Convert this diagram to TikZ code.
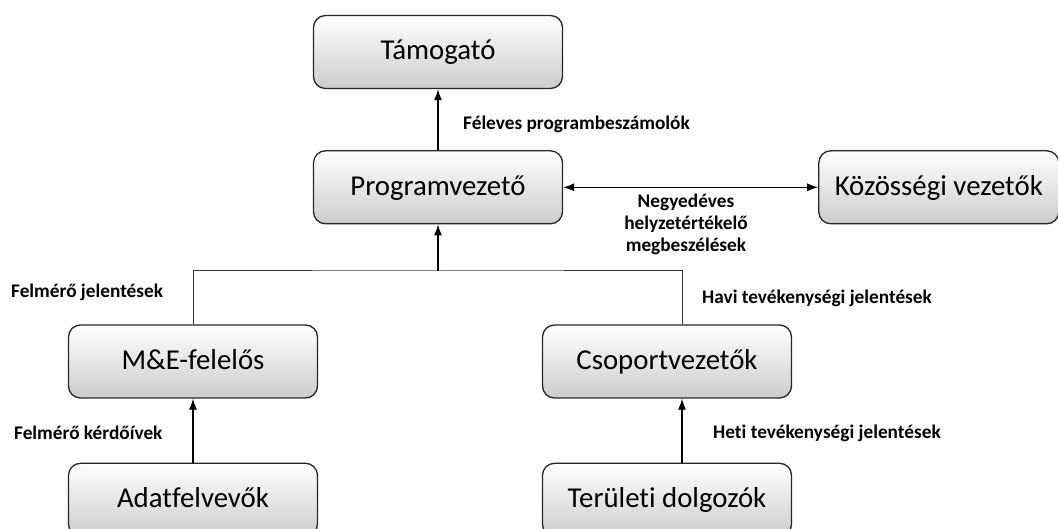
\documentclass[tikz,border=0pt]{standalone}
\usepackage{fontspec}
\setmainfont[Ligatures=NoCommon]{Carlito}
\usepackage{tikz}
\usetikzlibrary{arrows.meta,positioning}

\begin{document}
\begin{tikzpicture}[x=1pt, y=-1pt, node distance=61pt]
\tikzstyle{box} = [rectangle, draw=black!85, line width=1.3pt, top color=white, bottom color=black!20, minimum width=249pt, minimum height=73pt, rounded corners=12pt, font=\fontsize{28.8}{32}\selectfont, text height=21pt, text depth=5pt, inner sep=0pt]
\tikzstyle{lbl} = [font=\bfseries\fontsize{19.3}{22}\selectfont, inner sep=0pt]
\tikzstyle{arrow} = [line width=1.3pt, -{Latex[length=11pt,width=8pt]}]
\tikzstyle{link} = [line width=1pt, draw=black!80]

\useasboundingbox (0,0) rectangle (1058,529);

\node[box] (tam) at (438,52) {Támogató};
\node[box, below=of tam] (prog) {Programvezető};
\node[box, minimum width=240pt, right=255pt of prog] (koz) {Közösségi vezetők};
\node[box] (me) at (193,361.5) {M\&E-felelős};
\node[box] (cs) at (667,361.5) {Csoportvezetők};
\node[box, below=64pt of me] (adat) {Adatfelvevők};
\node[box, below=64pt of cs] (ter) {Területi dolgozók};
\coordinate (join) at (438,271);

% connectors
\draw[arrow] (prog) -- (tam);
\draw[arrow, {Latex[length=11pt,width=8pt]}-{Latex[length=11pt,width=8pt]}] (prog) -- (koz);
\draw[link] (me.north) |- (join) -| ([xshift=15pt]cs.north);
\draw[arrow] (join) -- (prog);
\draw[arrow] (adat) -- (me);
\draw[arrow] ([xshift=15pt]ter.north) -- ([xshift=15pt]cs.south);

% labels
\node[lbl, anchor=west] (l1) at (463,124) {Féleves programbeszámolók};
\node[lbl, align=center] (l2) at (686,224) {Negyedéves\\helyzetértékelő\\megbeszélések};
\node[lbl, anchor=west] (l3) at (11,292) {Felmérő jelentések};
\node[lbl, anchor=west] (l4) at (702,298) {Havi tevékenységi jelentések};
\node[lbl, anchor=west] (l5) at (14,433) {Felmérő kérdőívek};
\node[lbl, anchor=west] (l6) at (713,433) {Heti tevékenységi jelentések};
\end{tikzpicture}
\end{document}
